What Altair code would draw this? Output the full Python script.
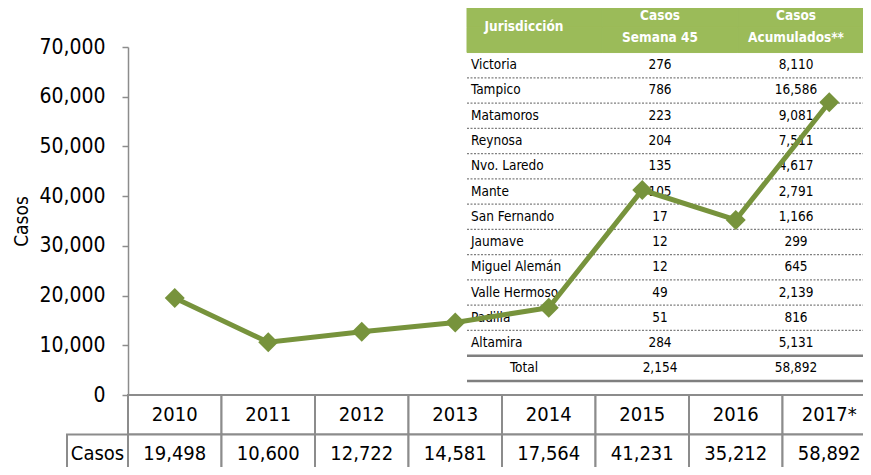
import altair as alt
import pandas as pd

# ---------------- data ----------------
years = ["2010", "2011", "2012", "2013", "2014", "2015", "2016", "2017*"]
casos = [19498, 10600, 12722, 14581, 17564, 41231, 35212, 58892]
y_ticks = [0, 10000, 20000, 30000, 40000, 50000, 60000, 70000]
bottom_rows = ["Año", "Casos"]

jurisdicciones = ["Victoria", "Tampico", "Matamoros", "Reynosa", "Nvo. Laredo", "Mante",
                  "San Fernando", "Jaumave", "Miguel Alemán", "Valle Hermoso", "Padilla", "Altamira"]
semana45 = [276, 786, 223, 204, 135, 105, 17, 12, 12, 49, 51, 284]
acumulados = [8110, 16586, 9081, 7511, 4617, 2791, 1166, 299, 645, 2139, 816, 5131]
total_label = "Total"
total_semana = 2154
total_acumulados = 58892
table_cols = ["Jurisdicción", "Casos Semana 45", "Casos Acumulados**"]
header_lines_1 = ["Casos", "Casos"]
header_lines_2 = ["Semana 45", "Acumulados**"]
header_rows = ["h1", "h2"]

# ---------------- style ----------------
FONT = "DejaVu Sans Condensed, Liberation Sans Narrow, sans-serif"
GREEN = "#77933C"
HEADER_GREEN = "#9BBB59"
GRAY = "#8C8C8C"
W, H = 735, 348

year_scale = alt.Scale(domain=years, range=[0, 748], paddingInner=0, paddingOuter=0)
row_scale = alt.Scale(domain=bottom_rows, range=[348, 427], paddingInner=0, paddingOuter=0)
ov_rows = header_rows + jurisdicciones + [total_label]
ov_row_scale = alt.Scale(domain=ov_rows, range=[-45, 334], paddingInner=0, paddingOuter=0)
ov_cell_scale = alt.Scale(domain=table_cols, range=[339, 745], paddingInner=0, paddingOuter=0)
ov_text_scale = alt.Scale(domain=table_cols, range=[328, 736], paddingInner=0, paddingOuter=0)
name_scale = alt.Scale(domain=[table_cols[0]], range=[341, 345], paddingInner=0, paddingOuter=0)
hdr_span_scale = alt.Scale(domain=["header"], range=[-44, 4], paddingInner=0, paddingOuter=0)
hdr_line_scale = alt.Scale(domain=header_rows, range=[-42, 2], paddingInner=0, paddingOuter=0)

# ---------------- main line chart ----------------
main_df = pd.DataFrame({"year": years, "casos": casos})
base = alt.Chart(main_df).encode(
    x=alt.X("year:N", scale=year_scale, axis=None),
    y=alt.Y("casos:Q", scale=alt.Scale(domain=[0, 70000], nice=False),
            axis=alt.Axis(orient="left", values=y_ticks,
                          labelExpr="format(datum.value, ',')", grid=False,
                          labelFont=FONT, labelFontSize=21, labelColor="black", labelPadding=17,
                          tickSize=6, tickColor=GRAY, tickWidth=1.5,
                          domainColor=GRAY, domainWidth=1.5,
                          title="Casos", titleFont=FONT, titleFontSize=19,
                          titleFontWeight="normal", titleColor="black", titlePadding=7)),
)
line = base.mark_line(color=GREEN, strokeWidth=5)
pts = base.mark_point(shape="diamond", filled=True, size=400, color=GREEN, opacity=1)
G1 = alt.layer(line, pts)

# ---------------- bottom data table ----------------
bottom_df = pd.DataFrame({
    "year": years * 2,
    "row": [bottom_rows[0]] * len(years) + [bottom_rows[1]] * len(years),
    "label": years + [f"{c:,}" for c in casos],
})
bx = alt.X("year:N", scale=year_scale, axis=None)
by = alt.Y("row:N", scale=row_scale, axis=None)
b_cells = alt.Chart(bottom_df).mark_rect(fill="white", stroke=GRAY, strokeWidth=2).encode(x=bx, y=by)
b_text = alt.Chart(bottom_df).mark_text(font=FONT, fontSize=20, color="black", baseline="middle").encode(
    x=bx, y=by, text="label:N")
G2 = alt.layer(b_cells, b_text)

lab_df = pd.DataFrame({"col": ["Casos"], "row": ["Casos"], "label": ["Casos"]})
lx = alt.X("col:N", scale=alt.Scale(domain=["Casos"], range=[-61, 0], paddingInner=0, paddingOuter=0), axis=None)
ly = alt.Y("row:N", scale=row_scale, axis=None)
l_cell = alt.Chart(lab_df).mark_rect(fill="white", stroke=GRAY, strokeWidth=2).encode(x=lx, y=ly)
l_text = alt.Chart(lab_df).mark_text(font=FONT, fontSize=20, color="black", baseline="middle").encode(
    x=lx, y=ly, text="label:N")
G3 = alt.layer(l_cell, l_text)

# ---------------- overlay table: backgrounds & rules ----------------
hdr_df = pd.DataFrame([{"col": c, "row": r} for c in table_cols for r in header_rows])
hdr_rect = alt.Chart(hdr_df).mark_rect(fill=HEADER_GREEN, stroke=HEADER_GREEN, strokeWidth=1).encode(
    x=alt.X("col:N", scale=ov_cell_scale, axis=None),
    y=alt.Y("row:N", scale=ov_row_scale, axis=None))

dot_df = pd.DataFrame({"row": jurisdicciones[:-1], "c0": table_cols[0], "c1": table_cols[-1]})
solid_df = pd.DataFrame({"row": [jurisdicciones[-1], total_label], "c0": table_cols[0], "c1": table_cols[-1]})


def rules(df, **kw):
    return alt.Chart(df).mark_rule(**kw).encode(
        x=alt.X("c0:N", scale=ov_cell_scale, axis=None, bandPosition=0),
        x2=alt.X2("c1:N", bandPosition=1),
        y=alt.Y("row:N", scale=ov_row_scale, axis=None, bandPosition=1))


dot_rules = rules(dot_df, color="#7F7F7F", strokeWidth=1.3, strokeDash=[2, 1.5])
solid_rules = rules(solid_df, color="#7F7F7F", strokeWidth=2.5)
G4 = alt.layer(hdr_rect, dot_rules, solid_rules)

# ---------------- overlay table: texts ----------------
num_records = []
for j, s, a in zip(jurisdicciones, semana45, acumulados):
    num_records.append({"col": table_cols[1], "row": j, "label": f"{s:,}"})
    num_records.append({"col": table_cols[2], "row": j, "label": f"{a:,}"})
num_records.append({"col": table_cols[0], "row": total_label, "label": total_label})
num_records.append({"col": table_cols[1], "row": total_label, "label": f"{total_semana:,}"})
num_records.append({"col": table_cols[2], "row": total_label, "label": f"{total_acumulados:,}"})
num_df = pd.DataFrame(num_records)

G5 = alt.Chart(num_df).mark_text(font=FONT, fontSize=13.5, color="black", align="center",
                                   baseline="middle").encode(
    x=alt.X("col:N", scale=ov_text_scale, axis=None),
    y=alt.Y("row:N", scale=ov_row_scale, axis=None),
    text="label:N")

head_df = pd.DataFrame({
    "col": table_cols[1:] * 2,
    "row": [header_rows[0]] * 2 + [header_rows[1]] * 2,
    "label": header_lines_1 + header_lines_2,
})
G5h = alt.Chart(head_df).mark_text(font=FONT, fontSize=13.5, fontWeight="bold", color="white",
                                     align="center", baseline="middle").encode(
    x=alt.X("col:N", scale=ov_text_scale, axis=None),
    y=alt.Y("row:N", scale=hdr_line_scale, axis=None),
    text="label:N")

name_df = pd.DataFrame({"col": table_cols[0], "row": jurisdicciones})
G6 = alt.Chart(name_df).mark_text(font=FONT, fontSize=13.5, color="black", align="left",
                                    baseline="middle").encode(
    x=alt.X("col:N", scale=name_scale, axis=None),
    y=alt.Y("row:N", scale=ov_row_scale, axis=None),
    text="row:N")

jur_df = pd.DataFrame({"col": [table_cols[0]], "row": ["header"], "label": [table_cols[0]]})
G7 = alt.Chart(jur_df).mark_text(font=FONT, fontSize=13.5, fontWeight="bold", color="white",
                                   align="center", baseline="middle").encode(
    x=alt.X("col:N", scale=ov_text_scale, axis=None),
    y=alt.Y("row:N", scale=hdr_span_scale, axis=None),
    text="label:N")

chart = alt.layer(G4, G5, G5h, G6, G7, G2, G3, G1).resolve_scale(
    x="independent", y="independent"
).properties(
    width=W, height=H,
    padding={"left": 120, "top": 39, "right": 0, "bottom": 72},
    autosize=alt.AutoSizeParams(type="none"),
).configure_view(stroke=None)

chart.save("out.html", embed_options={"renderer": "svg", "actions": False})
